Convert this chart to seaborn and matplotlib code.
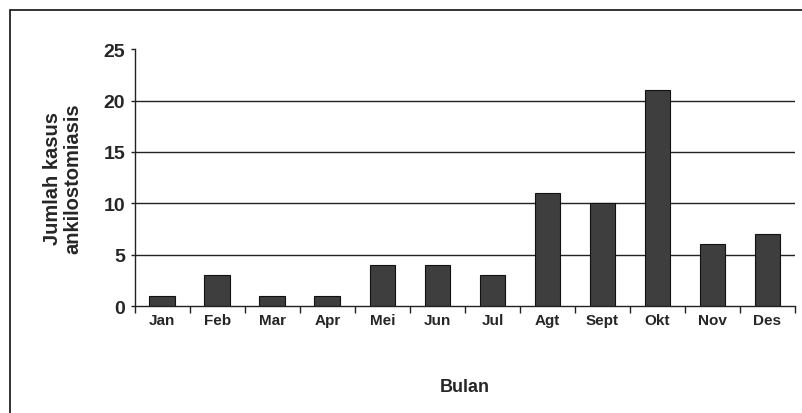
import matplotlib
matplotlib.use("Agg")
import matplotlib.pyplot as plt
import seaborn as sns
import pandas as pd
from matplotlib.patches import Rectangle
from matplotlib.ticker import FixedLocator

months = ["Jan", "Feb", "Mar", "Apr", "Mei", "Jun", "Jul", "Agt", "Sept", "Okt", "Nov", "Des"]
cases = [1, 3, 1, 1, 4, 4, 3, 11, 10, 21, 6, 7]
yticks = [0, 5, 10, 15, 20, 25]

sns.set_theme(style="white")
plt.rcParams['font.family'] = ['Liberation Sans', 'DejaVu Sans']

df = pd.DataFrame({"Bulan": months, "Kasus": cases})

fig = plt.figure(figsize=(8.03, 4.14), dpi=100)
ax = fig.add_axes([0.168, 0.258, 0.822, 0.621])

sns.barplot(data=df, x="Bulan", y="Kasus", ax=ax, color="#3e3e3e",
            edgecolor="#111111", linewidth=0.8, width=0.47, saturation=1)

ax.set_ylim(0, 25)
ax.set_xlim(-0.5, len(months) - 0.5)
ax.set_yticks(yticks)
ax.set_yticklabels([str(v) for v in yticks], fontsize=14, fontweight="bold")
for v in yticks[1:-1]:
    ax.axhline(v, color="#222222", linewidth=1.0, zorder=0)

ax.set_xticks(range(len(months)))
ax.set_xticklabels(months, fontsize=11, fontweight="bold")
ax.tick_params(axis="x", which="major", length=0, pad=5)
ax.xaxis.set_minor_locator(FixedLocator([i + 0.5 for i in range(-1, len(months))]))
ax.tick_params(axis="x", which="minor", length=5, width=1, color="#222222", direction="out", bottom=True)
ax.tick_params(axis="y", which="major", length=3, width=1, color="#222222", direction="out", left=True, pad=4)

for s in ["top", "right"]:
    ax.spines[s].set_visible(False)
for s in ["left", "bottom"]:
    ax.spines[s].set_color("#222222")
    ax.spines[s].set_linewidth(1.0)

ax.set_ylabel("Jumlah kasus\nankilostomiasis", fontsize=14.5, fontweight="bold", linespacing=1.15)
ax.yaxis.set_label_coords(-0.079, 0.5)
ax.set_xlabel("Bulan", fontsize=13, fontweight="bold")
ax.xaxis.set_label_coords(0.5, -0.278)

frame = Rectangle((0.013, -0.2), 1.2, 1.173, transform=fig.transFigure, fill=False,
                  edgecolor="#111111", linewidth=1.2, clip_on=False)
fig.patches.append(frame)

fig.savefig("out.png", dpi=100)
